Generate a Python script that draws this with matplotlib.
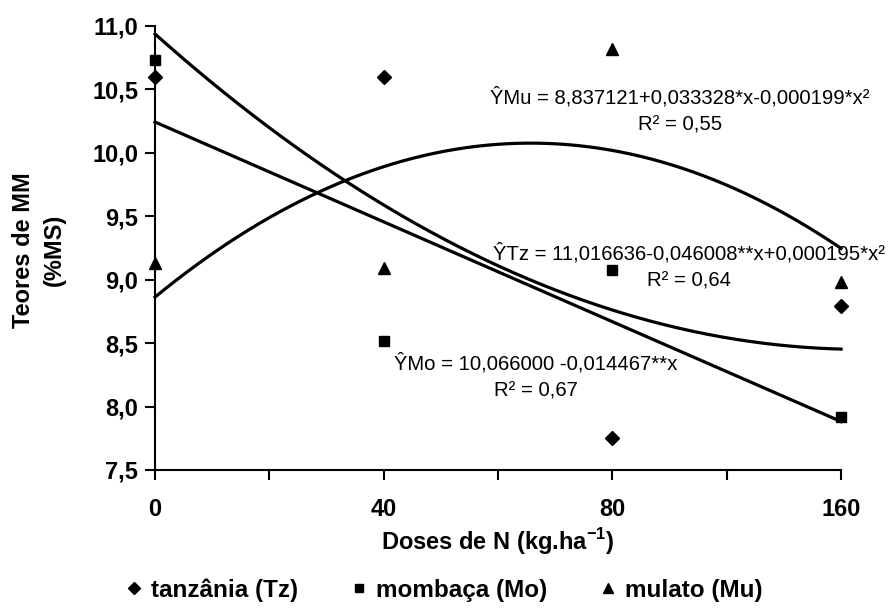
import numpy as np
import matplotlib
matplotlib.use("Agg")
import matplotlib.pyplot as plt

plt.rcParams['font.family'] = ['Liberation Sans', 'DejaVu Sans']
plt.rcParams['mathtext.fontset'] = 'custom'
plt.rcParams['mathtext.rm'] = 'Liberation Sans'
plt.rcParams['mathtext.bf'] = 'Liberation Sans:bold'

# doses (category axis, equally spaced)
doses = ['0', '40', '80', '160']
pos = np.array([1, 2, 3, 4])

# teores de MM (%MS)
tanzania = [10.60, 10.60, 7.75, 8.79]
mombaca = [10.73, 8.52, 9.08, 7.92]
mulato = [9.13, 9.09, 10.82, 8.98]

eq_mu = "\u0176Mu = 8,837121+0,033328*x-0,000199*x\u00b2\nR\u00b2 = 0,55"
eq_tz = "\u0176Tz = 11,016636-0,046008**x+0,000195*x\u00b2\nR\u00b2 = 0,64"
eq_mo = "\u0176Mo = 10,066000 -0,014467**x\nR\u00b2 = 0,67"

fig = plt.figure(figsize=(8.9, 6.13), dpi=100)
ax = fig.add_axes([0.1742, 0.2333, 0.7708, 0.7243])

# trendlines as excel draws them (fit over category positions)
xx = np.linspace(1, 4, 200)
for y, deg in [(tanzania, 2), (mombaca, 1), (mulato, 2)]:
    c = np.polyfit(pos, y, deg)
    ax.plot(xx, np.polyval(c, xx), color='black', lw=2.3, clip_on=False)

h1, = ax.plot(pos, tanzania, 'D', color='black', ms=7, clip_on=False, label='tanzânia (Tz)')
h2, = ax.plot(pos, mombaca, 's', color='black', ms=7, clip_on=False, label='mombaça (Mo)')
h3, = ax.plot(pos, mulato, '^', color='black', ms=8.5, clip_on=False, label='mulato (Mu)')

ax.set_xlim(1, 4)
ax.set_ylim(7.5, 11.0)
ax.set_xticks([1, 1.5, 2, 2.5, 3, 3.5, 4])
ax.set_xticklabels(['0', '', '40', '', '80', '', '160'])
yt = np.arange(7.5, 11.01, 0.5)
ax.set_yticks(yt)
ax.set_yticklabels([f"{v:.1f}".replace('.', ',') for v in yt])
for lab in ax.get_xticklabels() + ax.get_yticklabels():
    lab.set_fontweight('bold')
    lab.set_fontsize(17)
ax.tick_params(axis='y', direction='out', length=7, width=1.5, pad=5)
ax.tick_params(axis='x', direction='out', length=7, width=1.5, pad=13)
ax.spines['top'].set_visible(False)
ax.spines['right'].set_visible(False)
ax.spines['left'].set_linewidth(1.5)
ax.spines['bottom'].set_linewidth(1.5)

ax.set_xlabel(r'Doses de N (kg.ha$^{\mathbf{-1}}$)', fontsize=17, fontweight='bold', labelpad=4)
fig.text(39 / 890, 1 - 250 / 613, 'Teores de MM\n(%MS)', rotation=90, ha='center', va='center',
         fontsize=17, fontweight='bold', multialignment='center', linespacing=1.45)

ax.annotate(eq_mu, xy=(680 / 890, 1 - 111 / 613), xycoords='figure fraction',
            ha='center', va='center', fontsize=14.6, multialignment='center', linespacing=1.55)
ax.annotate(eq_tz, xy=(689 / 890, 1 - 267 / 613), xycoords='figure fraction',
            ha='center', va='center', fontsize=14.6, multialignment='center', linespacing=1.55)
ax.annotate(eq_mo, xy=(536 / 890, 1 - 377 / 613), xycoords='figure fraction',
            ha='center', va='center', fontsize=14.6, multialignment='center', linespacing=1.55)

fig.legend(handles=[h1, h2, h3], loc='center', bbox_to_anchor=(0.5, 1 - 590 / 613), ncol=3,
           frameon=False, prop={'weight': 'bold', 'size': 17.5}, markerscale=0.85,
           handlelength=0.6, handletextpad=0.4, columnspacing=2.2)

fig.savefig('out.png', dpi=100)
